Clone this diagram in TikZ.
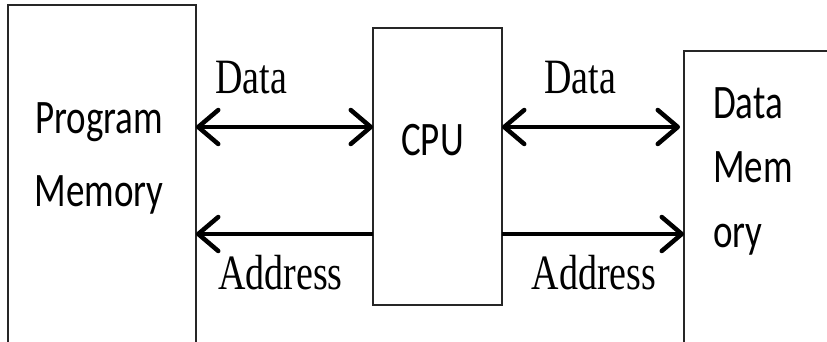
\documentclass[tikz,border=0pt]{standalone}
\usepackage{fontspec}
\setmainfont{Liberation Serif}
\newfontfamily\boxfont{Carlito}
\usetikzlibrary{arrows.meta,graphs}

\begin{document}
\begin{tikzpicture}[x=1pt,y=1pt,
		block/.style={rectangle, draw=black!85, line width=1.3pt, inner sep=0pt},
		blocktext/.style={font=\boxfont\fontsize{37}{56}\selectfont, inner sep=0pt, yscale=1.3},
		buslabel/.style={font=\fontsize{38}{46}\selectfont, inner sep=0pt, anchor=base, yscale=1.3},
		bus/.style={line width=4.5pt, >={Straight Barb[length=20pt,width=34pt,round]}}]
		\clip (0,0) rectangle (827,341);
		\node (pm) at (102,166) [block, minimum width=188pt, minimum height=340pt] {};
		\node (cpu) at (437.5,174.5) [block, minimum width=129pt, minimum height=277pt] {};
		\node (dm) at (762,143) [block, minimum width=156pt, minimum height=294pt] {};
		\node (pm_t) at (99,135) [blocktext, align=center, anchor=base] {Program\\Memory};
		\node (cpu_t) at (432.5,186) [blocktext, anchor=base] {CPU};
		\node (dm_t) at (713,94) [blocktext, font=\boxfont\fontsize{37}{49.6}\selectfont, align=left, anchor=base west] {Data\\Mem\\ory};
		\node (d_1) at (251,248) [buslabel] {Data}; % bus labels
		\node (a_1) at (280.5,52) [buslabel] {Address};
		\node (d_2) at (580,248) [buslabel] {Data};
		\node (a_2) at (594,52) [buslabel] {Address};
		\coordinate (pm_d) at (196,214);
		\coordinate (pm_a) at (196,107);
		\coordinate (cpu_dl) at (373,214);
		\coordinate (cpu_al) at (373,107);
		\coordinate (cpu_dr) at (502,214);
		\coordinate (cpu_ar) at (502,107);
		\coordinate (dm_d) at (680,214);
		\coordinate (dm_a) at (684,107);
		
		\graph [edges={bus}] {
			(pm_d) <-> (cpu_dl);
			(cpu_al) -> (pm_a);
			(cpu_dr) <-> (dm_d);
			(cpu_ar) -> (dm_a);
		};
	\end{tikzpicture}
\end{document}
